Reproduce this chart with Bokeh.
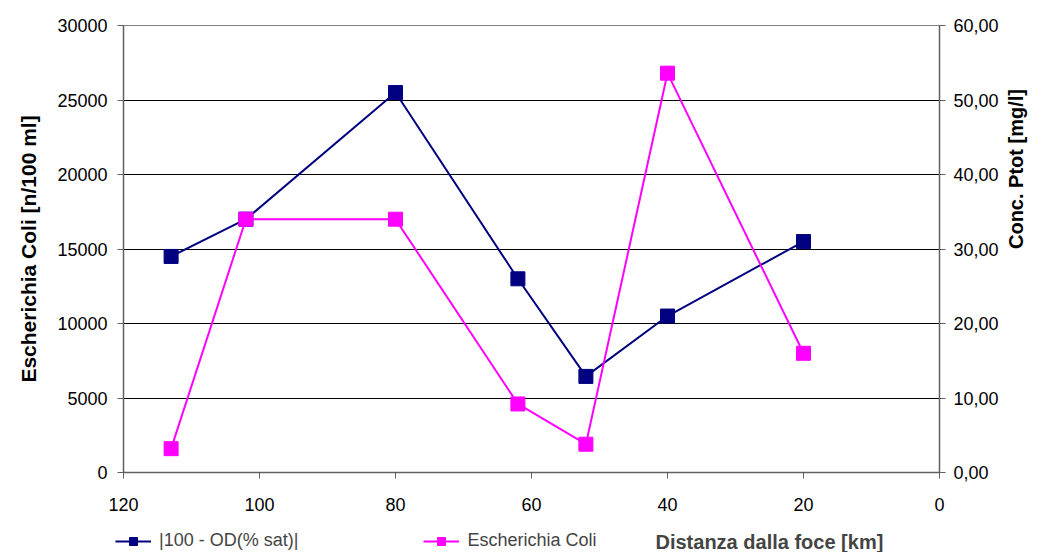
import math
from bokeh.plotting import figure
from bokeh.layouts import column, row
from bokeh.models import (Range1d, LinearAxis, Legend, LegendItem, Label,
                          CustomJSTickFormatter, FixedTicker)
from bokeh.embed import file_html
from bokeh.resources import INLINE

# ---- data ----
distance_km = [113, 102, 80, 62, 52, 40, 20]
od_deviation = [29.0, 34.0, 51.0, 26.0, 12.9, 21.0, 31.0]      # right axis
e_coli = [1600, 17000, 17000, 4600, 1900, 26800, 8000]          # left axis
x_ticks = [0, 20, 40, 60, 80, 100, 120]
left_ticks = [0, 5000, 10000, 15000, 20000, 25000, 30000]
right_ticks = [0, 10, 20, 30, 40, 50, 60]
series_names = ["|100 - OD(% sat)|", "Escherichia Coli"]
x_title = "Distanza dalla foce [km]"

NAVY = "#000080"
MAGENTA = "#FF00FF"
FONT = "Liberation Sans"
NARROW = "Liberation Sans Narrow, Liberation Sans"

W, H, STRIP = 1040, 522, 30
p = figure(width=W, height=H, output_backend="svg", toolbar_location=None,
           x_range=Range1d(120, 0), y_range=Range1d(0, 30000),
           min_border_left=123, min_border_right=W - 939, min_border_top=25,
           min_border_bottom=H - 472)
p.extra_y_ranges = {"right": Range1d(0, 60)}

p.outline_line_color = "#808080"
p.outline_line_width = 1
p.xgrid.visible = False
p.ygrid.grid_line_color = "black"
p.ygrid.grid_line_width = 1

# x axis
xa = p.xaxis[0]
xa.ticker = FixedTicker(ticks=x_ticks)
xa.major_label_text_font = NARROW
xa.major_label_text_font_size = "18px"
xa.major_label_text_color = "black"
xa.major_label_standoff = 19
xa.axis_line_color = "#606060"
xa.axis_line_width = 1.5
xa.major_tick_line_color = "#606060"
xa.major_tick_out = 6
xa.major_tick_in = 0
xa.minor_tick_out = 0
xa.minor_tick_in = 0

# left axis
ya = p.yaxis[0]
ya.ticker = FixedTicker(ticks=left_ticks)
ya.axis_label = "Escherichia Coli [n/100 ml]"
ya.axis_label_text_font = FONT
ya.axis_label_text_font_style = "bold"
ya.axis_label_text_font_size = "21px"
ya.axis_label_text_color = "black"
ya.axis_label_standoff = 14
ya.major_label_text_font = FONT
ya.major_label_text_font_size = "18px"
ya.major_label_text_color = "black"
ya.major_label_standoff = 10
ya.axis_line_color = "#606060"
ya.axis_line_width = 1.5
ya.major_tick_line_color = "#606060"
ya.major_tick_out = 6
ya.major_tick_in = 0
ya.minor_tick_out = 0
ya.minor_tick_in = 0

# right axis
ra = LinearAxis(y_range_name="right", ticker=FixedTicker(ticks=right_ticks),
                formatter=CustomJSTickFormatter(code="return tick.toFixed(2).replace('.', ',');"))
ra.axis_label = "Conc. Ptot [mg/l]"
ra.axis_label_text_font = FONT
ra.axis_label_text_font_style = "bold"
ra.axis_label_text_font_size = "20px"
ra.axis_label_text_color = "black"
ra.axis_label_orientation = math.pi / 2
ra.axis_label_standoff = 14
ra.major_label_text_font = FONT
ra.major_label_text_font_size = "18px"
ra.major_label_text_color = "black"
ra.major_label_standoff = 8
ra.axis_line_color = "#606060"
ra.axis_line_width = 1.5
ra.major_tick_line_color = "#606060"
ra.major_tick_out = 6
ra.major_tick_in = 0
ra.minor_tick_out = 0
ra.minor_tick_in = 0
p.add_layout(ra, "right")

# series
p.line(distance_km, od_deviation, y_range_name="right", line_color=NAVY, line_width=2)
p.scatter(distance_km, od_deviation, y_range_name="right", marker="square", size=14,
          fill_color=NAVY, line_color=NAVY)
p.line(distance_km, e_coli, line_color=MAGENTA, line_width=2)
p.scatter(distance_km, e_coli, marker="square", size=14,
          fill_color=MAGENTA, line_color=MAGENTA)

# ---- bottom strip: legend + x-axis title on the same row ----
s = figure(width=W, height=STRIP, output_backend="svg", toolbar_location=None,
           x_range=Range1d(-2, -1), y_range=Range1d(-2, -1),
           x_axis_type=None, y_axis_type=None,
           min_border_left=0, min_border_right=0, min_border_top=0, min_border_bottom=0)
s.outline_line_color = None
s.grid.visible = False
# the same series, out of the strip's view: only their legend keys are seen
k1 = s.line(distance_km, od_deviation, line_color=NAVY, line_width=2)
k1m = s.scatter(distance_km, od_deviation, marker="square", size=14, fill_color=NAVY, line_color=NAVY)
k2 = s.line(distance_km, e_coli, line_color=MAGENTA, line_width=2)
k2m = s.scatter(distance_km, e_coli, marker="square", size=14, fill_color=MAGENTA, line_color=MAGENTA)

legend = Legend(items=[LegendItem(label=series_names[0], renderers=[k1, k1m]),
                       LegendItem(label=series_names[1], renderers=[k2, k2m])],
                orientation="horizontal", location=(115, 1),
                label_text_font=NARROW, label_text_font_size="18px",
                glyph_width=36, glyph_height=20, label_standoff=8, spacing=125,
                padding=0, margin=0, border_line_color=None,
                background_fill_alpha=0)
s.add_layout(legend, "center")

xlabel = Label(x=655, y=11, x_units="screen", y_units="screen",
               text=x_title, text_font=FONT,
               text_font_style="bold", text_font_size="20px",
               text_baseline="middle", text_align="left")
s.add_layout(xlabel)

layout = column(p, row(s), spacing=0)
open("out.html", "w").write(file_html(layout, INLINE))
